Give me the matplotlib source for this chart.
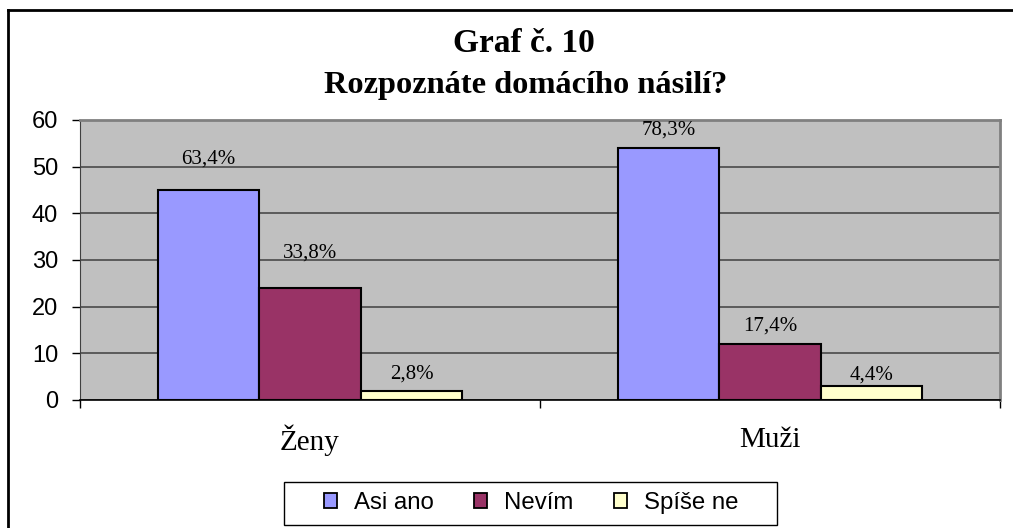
import matplotlib.pyplot as plt
import numpy as np
from matplotlib.lines import Line2D
from matplotlib.patches import Rectangle

categories = ["Ženy", "Muži"]
series_names = ["Asi ano", "Nevím", "Spíše ne"]
asi_ano = [45, 54]
nevim = [24, 12]
spise_ne = [2, 3]
labels_asi_ano = ["63,4%", "78,3%"]
labels_nevim = ["33,8%", "17,4%"]
labels_spise_ne = ["2,8%", "4,4%"]

# label offsets above the bar top, in pixels (they are not uniform in the original)
label_offsets = [[31, 18], [35, 18], [17, 11]]

colors = ["#9999FF", "#993366", "#FFFFCC"]
SERIF = "Liberation Serif"
SANS = "Liberation Sans"
W, H = 1013, 528

fig = plt.figure(figsize=(W / 100, H / 100), dpi=100)
ax = fig.add_axes([80 / W, 1 - 400 / H, 920 / W, 280 / H])
ax.set_facecolor("#C0C0C0")

x = np.arange(len(categories))
width = 0.221
series = [asi_ano, nevim, spise_ne]
texts = [labels_asi_ano, labels_nevim, labels_spise_ne]
for i, (vals, labs) in enumerate(zip(series, texts)):
    pos = x + (i - 1) * width
    ax.bar(pos, vals, width=width, color=colors[i], edgecolor="black",
           linewidth=1.5, zorder=3)
    for j, (p, v, t) in enumerate(zip(pos, vals, labs)):
        ax.annotate(t, (p, v), xytext=(0, label_offsets[i][j]),
                    textcoords="offset pixels", ha="center", va="center",
                    fontsize=15, family=SERIF, zorder=4)

ax.set_xlim(-0.5, 1.5)
ax.set_ylim(0, 60)
ax.set_yticks(range(0, 61, 10))
ax.yaxis.grid(True, color="#4a4a4a", linewidth=1.2, zorder=1)
ax.set_axisbelow(True)
ax.tick_params(axis="y", labelsize=17, length=5.8, width=1, pad=10)
for lab in ax.get_yticklabels():
    lab.set_family(SANS)

ax.set_xticks([-0.5, 0.5, 1.5])
ax.set_xticklabels([])
ax.tick_params(axis="x", length=5.8, width=1, direction="out")
for i, c in enumerate(categories):
    ax.text(i, -8.6, c, ha="center", va="center", fontsize=21, family=SERIF)

ax.spines["bottom"].set_color("black")
ax.spines["bottom"].set_linewidth(1.2)
ax.spines["left"].set_color("#404040")
for side in ["top", "right"]:
    ax.spines[side].set_color("#808080")
    ax.spines[side].set_linewidth(2)

fig.text(524 / W, 1 - 43 / H, "Graf č. 10", ha="center", va="center",
         fontsize=24, fontweight="bold", family=SERIF)
fig.text(526 / W, 1 - 85 / H, "Rozpoznáte domácího násilí?", ha="center",
         va="center", fontsize=23.3, fontweight="bold", family=SERIF)

# outer chart frame (only top and left edges visible in the reference)
fig.add_artist(Line2D([8 / W, 8 / W], [0, 1 - 9.5 / H],
                      transform=fig.transFigure, color="black", linewidth=2))
fig.add_artist(Line2D([8 / W, 1], [1 - 9.5 / H, 1 - 9.5 / H],
                      transform=fig.transFigure, color="black", linewidth=2))

# legend box drawn by hand, entries from the legend itself
fig.add_artist(Rectangle((284 / W, 1 - 525 / H), 493 / W, 43 / H,
                         transform=fig.transFigure, facecolor="white",
                         edgecolor="black", linewidth=1))
handles = [Rectangle((0, 0), 1, 1, facecolor=c, edgecolor="black",
                     linewidth=1.3) for c in colors]
leg = fig.legend(handles, series_names, loc="center",
                 bbox_to_anchor=(531 / W, 1 - 503 / H), ncol=3,
                 frameon=False, prop={"family": SANS, "size": 17.3},
                 handlelength=0.55, handleheight=0.55, columnspacing=1.7,
                 handletextpad=0.68, borderpad=0.2)

fig.savefig("out.png", dpi=100)
